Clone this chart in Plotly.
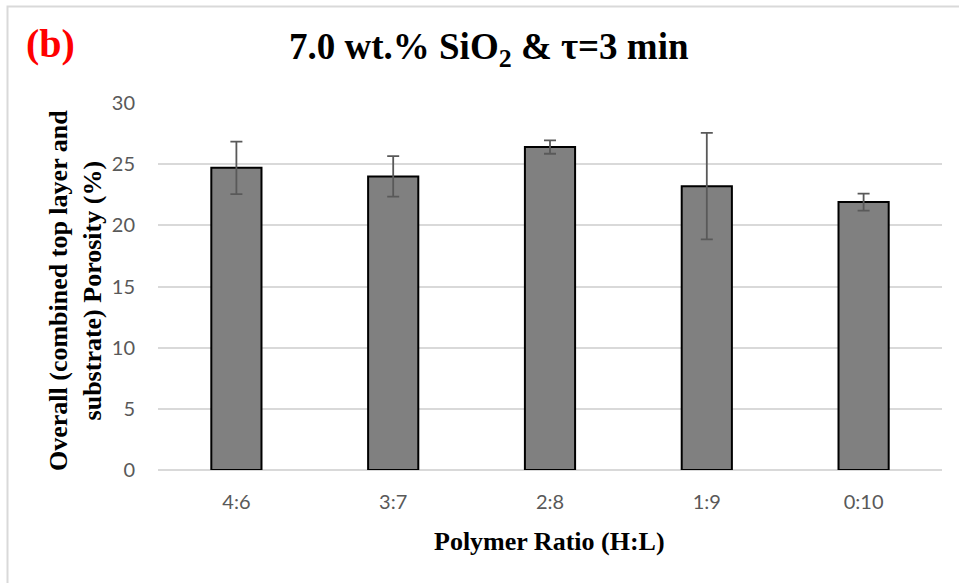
import plotly.graph_objects as go

# Porosity by polymer ratio (7.0 wt.% SiO2, tau = 3 min)
ratios = ["4:6", "3:7", "2:8", "1:9", "0:10"]
porosity = [24.7, 24.0, 26.4, 23.2, 21.9]
porosity_err = [2.15, 1.65, 0.55, 4.35, 0.70]
y_ticks = [0, 5, 10, 15, 20, 25, 30]

W, H = 959, 583
L, R, T, B = 158, 17, 103, 113
PW, PH = W - L - R, H - T - B


def px(x):
    return (x - L) / PW


def py(y):
    return (H - B - y) / PH


fig = go.Figure(
    go.Bar(
        x=ratios,
        y=porosity,
        marker=dict(color="#808080", line=dict(color="#000000", width=2)),
        error_y=dict(type="data", array=porosity_err, visible=True,
                     color="#595959", thickness=1.8, width=6),
        width=0.32,
    )
)

serif = "Liberation Serif, Times New Roman, serif"
tick_font = dict(family="Lato, Open Sans, sans-serif", size=20, color="#595959")

fig.update_layout(
    width=W, height=H,
    margin=dict(l=L, r=R, t=T, b=B),
    paper_bgcolor="white", plot_bgcolor="white",
    showlegend=False,
    xaxis=dict(showgrid=False, showline=False, ticks="", tickfont=tick_font,
               ticklabelstandoff=18),
    yaxis=dict(range=[0, 30], tickvals=y_ticks, showgrid=True, gridcolor="#d9d9d9",
               gridwidth=1.5, zeroline=True, zerolinecolor="#d9d9d9", zerolinewidth=1.5,
               showline=False, ticks="", tickfont=tick_font, ticklabelstandoff=22),
    shapes=[dict(type="rect", xref="paper", yref="paper",
                 x0=px(7.5), x1=px(W + 20), y0=py(H + 20), y1=py(6.5),
                 line=dict(color="#d9d9d9", width=2), fillcolor="rgba(0,0,0,0)",
                 layer="below")],
    annotations=[
        dict(text="<b>7.0 wt.% SiO<sub>2</sub> &amp; τ=3 min</b>", xref="paper", yref="paper",
             x=px(489), y=py(49), xanchor="center", yanchor="middle", showarrow=False,
             font=dict(family=serif, size=37, color="#000000")),
        dict(text="<b>(b)</b>", xref="paper", yref="paper",
             x=px(50), y=py(44), xanchor="center", yanchor="middle", showarrow=False,
             font=dict(family=serif, size=40, color="#ff0000")),
        dict(text="<b>Polymer Ratio (H:L)</b>", xref="paper", yref="paper",
             x=px(549.5), y=py(541), xanchor="center", yanchor="middle", showarrow=False,
             font=dict(family=serif, size=26, color="#000000")),
        dict(text="<b>Overall (combined top layer and<br>substrate) Porosity (%)</b>",
             xref="paper", yref="paper", x=px(75), y=py(291), xanchor="center",
             yanchor="middle", textangle=-90, showarrow=False,
             font=dict(family=serif, size=26, color="#000000")),
    ],
)

fig.write_html("out.html")
